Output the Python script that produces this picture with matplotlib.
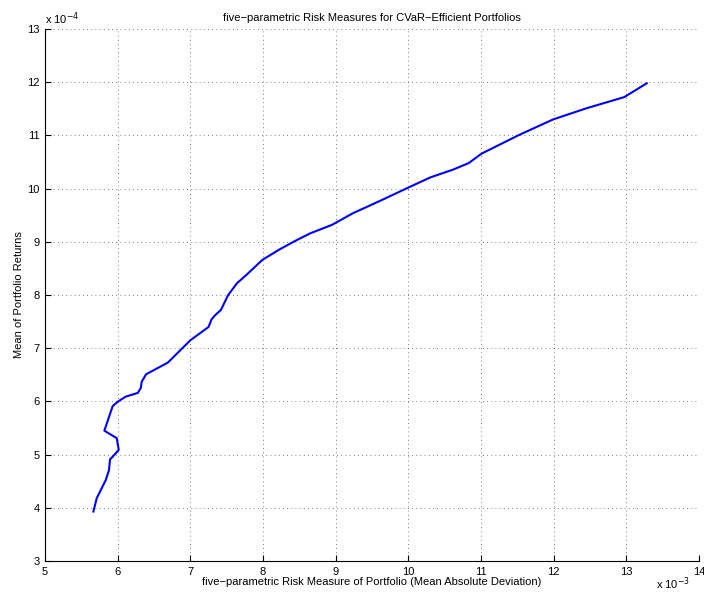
import matplotlib
matplotlib.use("Agg")
import matplotlib.pyplot as plt

# ── Data (x in units of 1e-3, y in units of 1e-4) ─────────────────────────────
risk = [5.665, 5.711, 5.78, 5.835, 5.88, 5.894, 5.93, 6.014, 5.986, 5.816,
        5.93, 5.995, 6.11, 6.276, 6.317, 6.33, 6.39, 6.69, 7.0, 7.25,
        7.29, 7.34, 7.42, 7.52, 7.64, 7.78, 7.99, 8.23, 8.46, 8.65,
        8.95, 9.24, 9.61, 10.0, 10.30, 10.62, 10.83, 11.01, 11.26, 11.51,
        11.99, 12.45, 12.97, 13.28]
mean_ret = [3.93, 4.18, 4.37, 4.52, 4.71, 4.91, 4.96, 5.09, 5.31, 5.45,
            5.91, 5.99, 6.09, 6.16, 6.25, 6.37, 6.51, 6.73, 7.15, 7.40,
            7.54, 7.62, 7.72, 8.0, 8.22, 8.39, 8.66, 8.86, 9.03, 9.16,
            9.32, 9.54, 9.77, 10.02, 10.21, 10.36, 10.48, 10.66, 10.83, 11.0,
            11.30, 11.51, 11.72, 11.98]

x_ticks = list(range(5, 15))
y_ticks = list(range(3, 14))

plt.rcParams["font.family"] = ["Liberation Sans", "DejaVu Sans"]
FS = 8

fig = plt.figure(figsize=(7.04, 5.96), dpi=100)
ax = fig.add_axes([0.064, 0.0587, 0.929, 0.8926])

ax.plot(risk, mean_ret, color="#0000ff", lw=1.5)

ax.set_xlim(5, 14)
ax.set_ylim(3, 13)
ax.set_xticks(x_ticks)
ax.set_yticks(y_ticks)
ax.tick_params(direction="in", length=4, width=0.8, labelsize=FS, pad=4)

for s in ["top", "right"]:
    ax.spines[s].set_visible(False)
for s in ["left", "bottom"]:
    ax.spines[s].set_color("black")
    ax.spines[s].set_linewidth(0.8)

ax.grid(True, color="#555555", linestyle=(0, (1, 4)), lw=0.6)

ax.set_title("five\u2212parametric Risk Measures for CVaR\u2212Efficient Portfolios",
             fontsize=FS, pad=6)
ax.set_xlabel("five\u2212parametric Risk Measure of Portfolio (Mean Absolute Deviation)",
              fontsize=FS, labelpad=0)
ax.set_ylabel("Mean of Portfolio Returns", fontsize=FS, labelpad=2)

fig.text(0.064, 0.955, r"x 10$^{-4}$", fontsize=FS, ha="left", va="bottom")
fig.text(0.98, 0.006, r"x 10$^{-3}$", fontsize=FS, ha="right", va="bottom")

fig.savefig("out.png", dpi=100)
